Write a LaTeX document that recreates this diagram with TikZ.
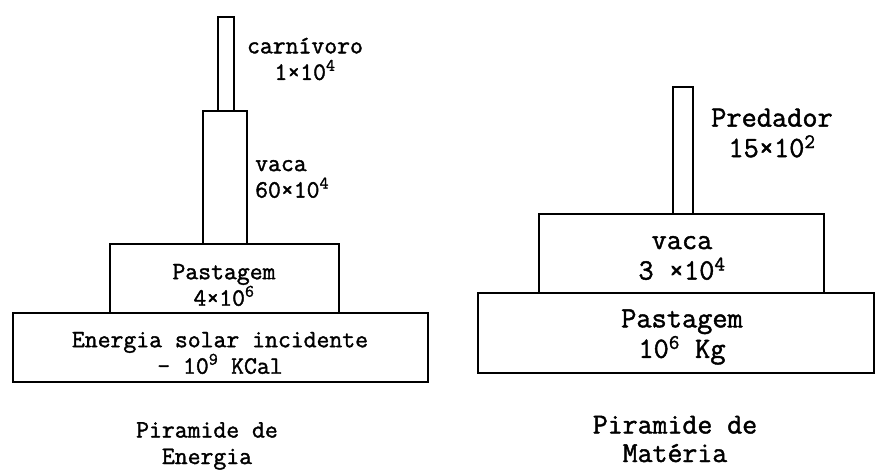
\documentclass[tikz,border=0pt]{standalone}
\usepackage{fontspec}
\setmainfont{Latin Modern Mono}[FakeBold=1.5]
\newcommand{\smalltxt}{\fontsize{25}{26.5}\selectfont}
\newcommand{\bigtxt}{\fontsize{29.5}{30.5}\selectfont}
\newcommand{\captxt}{\fontsize{29}{28.5}\selectfont}
\begin{document}
\begin{tikzpicture}[x=1pt,y=-1pt,
  bar/.style={draw, line width=1.6pt, inner sep=0pt, outer sep=0pt},
  lbl/.style={align=center, inner sep=0pt},
  lsm/.style={lbl, font=\smalltxt\bfseries},
  lbg/.style={lbl, font=\bigtxt\bfseries},
  lcap/.style={lbl, font=\captxt\bfseries}]
\useasboundingbox (0,0) rectangle (876,470);
% left pyramid (energy)
\node[bar, minimum width=16pt, minimum height=94pt] (carn) at (226,64) {};
\node[bar, minimum width=44pt, minimum height=133pt] (vacaL) at (225,177.5) {};
\node[bar, minimum width=229pt, minimum height=69pt] (pastL) at (224.5,278.5) {};
\node[bar, minimum width=415pt, minimum height=69pt] (energ) at (220.5,347.5) {};
\node[lsm] (carnT) at (305,59) {carnívoro\\1×10\textsuperscript{4}};
\node[lsm, anchor=west, align=left] (vacaLT) at (255,179) {vaca\\60×10\textsuperscript{4}};
\node[lsm] (pastLT) at (224,285) {Pastagem\\4×10\textsuperscript{6}};
\node[lsm] (energT) at (220,353) {Energia solar incidente\\- 10\textsuperscript{9} KCal};
\node[lsm] (capL) at (207,446) {Piramide de\\Energia};
% right pyramid (matter)
\node[bar, minimum width=20pt, minimum height=127pt] (pred) at (683,150.5) {};
\node[bar, minimum width=285pt, minimum height=79pt] (vacaR) at (681.5,253.5) {};
\node[bar, minimum width=396pt, minimum height=80pt] (pastR) at (676,333) {};
\node[lbg] (predT) at (772,133) {Predador\\15×10\textsuperscript{2}};
\node[lbg] (vacaRT) at (682,258) {vaca\\3 ×10\textsuperscript{4}};
\node[lbg] (pastRT) at (682,337) {Pastagem\\10\textsuperscript{6} Kg};
\node[lcap] (capR) at (675,439) {Piramide de\\Matéria};
\end{tikzpicture}
\end{document}
